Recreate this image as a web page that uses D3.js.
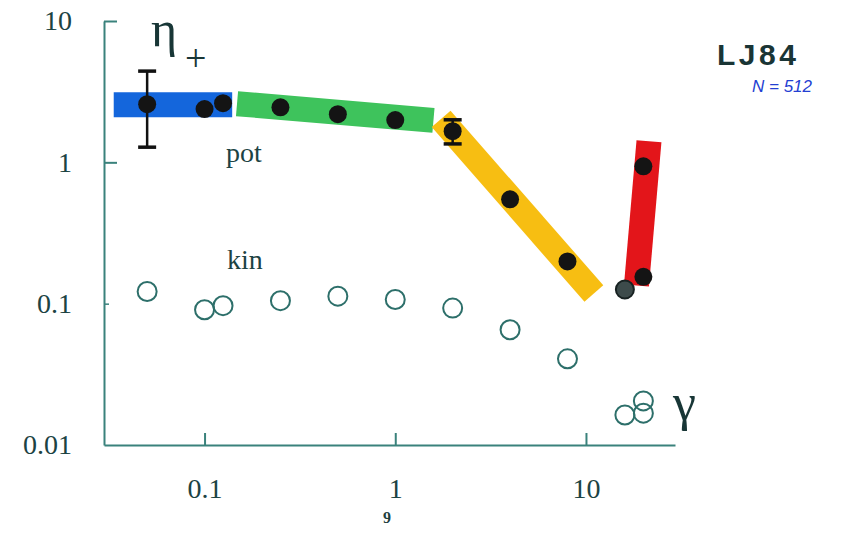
<!DOCTYPE html>
<html>
<head>
<meta charset="utf-8">
<script src="https://cdn.jsdelivr.net/npm/d3@7"></script>
<style>
  html, body { margin: 0; padding: 0; background: #ffffff; }
  svg { display: block; }
</style>
</head>
<body>
<svg id="chart" width="842" height="535"></svg>
<script>
// Shear viscosity components vs. shear rate (log-log)
const xTickValues = [0.1, 1, 10];
const xTickLabels = ["0.1", "1", "10"];
const yTickValues = [10, 1, 0.1, 0.01];
const yTickLabels = ["10", "1", "0.1", "0.01"];

// potential part (filled circles)
const potX = [0.05, 0.1, 0.125, 0.25, 0.5, 1, 2, 4, 8, 20, 20];
const potY = [2.58, 2.38, 2.62, 2.45, 2.19, 1.99, 1.66, 0.547, 0.199, 0.937, 0.155];
// potential part, grey point at the start of the last regime
const potGreyX = [16];
const potGreyY = [0.126];

// kinetic part (open circles)
const kinX = [0.05, 0.1, 0.125, 0.25, 0.5, 1, 2, 4, 8, 16, 20, 20];
const kinY = [0.122, 0.0906, 0.0968, 0.105, 0.113, 0.107, 0.093, 0.0654, 0.0407, 0.0163, 0.0205, 0.0168];

// error bars
const errX = [0.05, 2];
const errLow = [1.28, 1.35];
const errHigh = [4.42, 2.0];

// regime bands: centre line from (x0,y0) to (x1,y1)
const bandX0 = [0.0334, 0.148, 1.74, 18.4];
const bandY0 = [2.56, 2.60, 2.03, 0.1345];
const bandX1 = [0.1396, 1.586, 11.0, 21.4];
const bandY1 = [2.56, 1.98, 0.118, 1.41];
const bandColors = ["#1466dc", "#3ec35c", "#f7be12", "#e3151a"];

const svg = d3.select("#chart");
const axisColor = "#3a827c";
const textColor = "#1c4343";
const serif = "'Liberation Serif', 'DejaVu Serif', serif";

const x = d3.scaleLog().domain([0.0297, 29.3]).range([104, 675]);
const y = d3.scaleLog().domain([0.01, 10]).range([445, 21]);

// bands
const bandG = svg.append("g");
bandX0.forEach((_, i) => {
  bandG.append("line")
    .attr("x1", x(bandX0[i])).attr("y1", y(bandY0[i]))
    .attr("x2", x(bandX1[i])).attr("y2", y(bandY1[i]))
    .attr("stroke", bandColors[i])
    .attr("stroke-width", 25)
    .attr("stroke-linecap", "butt");
});

// axes
const yAxis = d3.axisLeft(y)
  .tickValues(yTickValues)
  .tickFormat((d, i) => yTickLabels[i])
  .tickSizeInner(-13).tickSizeOuter(0).tickPadding(32);
const yG = svg.append("g").attr("transform", "translate(104,0)").call(yAxis);

const xAxis = d3.axisBottom(x)
  .tickValues(xTickValues)
  .tickFormat((d, i) => xTickLabels[i])
  .tickSizeInner(-12).tickSizeOuter(0).tickPadding(33);
const xG = svg.append("g").attr("transform", "translate(0,445)").call(xAxis);

[yG, xG].forEach(g => {
  g.select(".domain").attr("stroke", axisColor).attr("stroke-width", 2);
  g.selectAll(".tick line").attr("stroke", axisColor).attr("stroke-width", 2);
  g.selectAll(".tick text")
    .attr("fill", textColor)
    .style("font-family", serif)
    .style("font-size", "28px");
});
// short tick at 0.1, none at 0.01 on the vertical axis
yG.selectAll(".tick").filter(d => d === 0.1).select("line").attr("x2", 5).attr("stroke-width", 1.5);
yG.selectAll(".tick").filter(d => d === 0.01).select("line").remove();

// error bars
const errG = svg.append("g").attr("stroke", "#111").attr("stroke-width", 2.5);
errX.forEach((v, i) => {
  const cx = x(v);
  errG.append("line").attr("x1", cx).attr("x2", cx).attr("y1", y(errLow[i])).attr("y2", y(errHigh[i]));
  [errLow[i], errHigh[i]].forEach(e => {
    errG.append("line").attr("x1", cx - 9).attr("x2", cx + 9).attr("y1", y(e)).attr("y2", y(e)).attr("stroke-width", 3.5);
  });
});

// kinetic (open circles)
svg.append("g").selectAll("circle")
  .data(kinX.map((v, i) => [v, kinY[i]]))
  .join("circle")
  .attr("cx", d => x(d[0])).attr("cy", d => y(d[1]))
  .attr("r", 9.5)
  .attr("fill", "none")
  .attr("stroke", "#2d6f6a")
  .attr("stroke-width", 2);

// potential (filled circles)
svg.append("g").selectAll("circle")
  .data(potGreyX.map((v, i) => [v, potGreyY[i]]))
  .join("circle")
  .attr("cx", d => x(d[0])).attr("cy", d => y(d[1]))
  .attr("r", 9)
  .attr("fill", "#3d4b4b")
  .attr("stroke", "#182222")
  .attr("stroke-width", 2);

svg.append("g").selectAll("circle")
  .data(potX.map((v, i) => [v, potY[i]]))
  .join("circle")
  .attr("cx", d => x(d[0])).attr("cy", d => y(d[1]))
  .attr("r", 9)
  .attr("fill", "#141414");

// labels
const label = (txt, px, py, size, opts = {}) => svg.append("text")
  .attr("x", px).attr("y", py)
  .attr("fill", opts.fill || textColor)
  .attr("text-anchor", opts.anchor || "start")
  .style("font-family", opts.family || serif)
  .style("font-size", size + "px")
  .style("font-weight", opts.weight || "normal")
  .style("font-style", opts.style || "normal")
  .style("letter-spacing", opts.spacing || "0px")
  .text(txt);

label("η", 151, 46, 50, { fill: "#183636" });
label("+", 185, 71, 38, { fill: "#183636" });
label("pot", 226, 162, 28);
label("kin", 227, 269, 28);
label("γ", 673, 420, 52, { fill: "#183636" });
label("LJ84", 717, 65, 30, { family: "'Liberation Sans', Arial, sans-serif", weight: "bold", spacing: "3.5px", fill: "#1a3535" });
label("N = 512", 752, 92, 17, { family: "'Liberation Sans', Arial, sans-serif", style: "italic", fill: "#2340d2" });
label("9", 383, 523, 16, { weight: "bold", fill: "#1f3f3f" });
</script>
</body>
</html>
